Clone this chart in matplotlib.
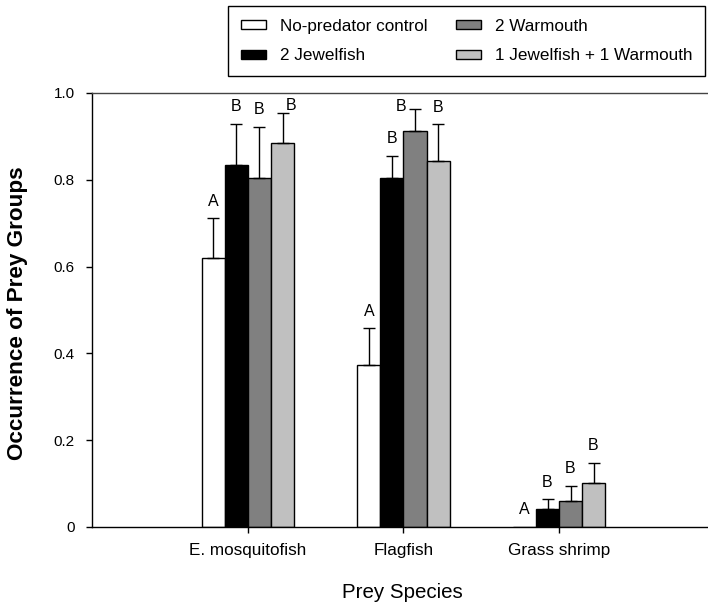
import numpy as np
import matplotlib
matplotlib.use("Agg")
import matplotlib.pyplot as plt
from matplotlib.patches import Patch

plt.rcParams['font.family'] = ['Liberation Sans', 'DejaVu Sans']

# data
species = ["E. mosquitofish", "Flagfish", "Grass shrimp"]
treatments = ["No-predator control", "2 Jewelfish", "2 Warmouth", "1 Jewelfish + 1 Warmouth"]
colors = ["white", "black", "#808080", "#c0c0c0"]

control = [0.62, 0.373, 0.0]
jewelfish = [0.833, 0.803, 0.041]
warmouth = [0.803, 0.913, 0.061]
mixed = [0.884, 0.844, 0.102]

control_err = [0.091, 0.085, 0.0]
jewelfish_err = [0.096, 0.052, 0.023]
warmouth_err = [0.119, 0.049, 0.034]
mixed_err = [0.069, 0.084, 0.046]

letters = [["A", "B", "B", "B"],
           ["A", "B", "B", "B"],
           ["A", "B", "B", "B"]]

yticks = [0, 0.2, 0.4, 0.6, 0.8, 1.0]
ytick_labels = ["0", "0.2", "0.4", "0.6", "0.8", "1.0"]

means = [control, jewelfish, warmouth, mixed]
errs = [control_err, jewelfish_err, warmouth_err, mixed_err]

fig = plt.figure(figsize=(7.08, 6.06), dpi=100)
ax = fig.add_axes([92 / 708, 1 - 527 / 606, 616 / 708, 434 / 606])

x = np.arange(len(species))
w = 0.148

# letter nudges (points) for a couple of labels that sit off-centre
nudge = {(0, 3): (6, -7), (1, 2): (-10, -10)}

for i, (m, e, c) in enumerate(zip(means, errs, colors)):
    pos = x + (i - 1.5) * w
    ax.bar(pos, m, w, color=c, edgecolor="black", linewidth=1.0, zorder=2)
    m_arr = np.array(m)
    e_arr = np.array(e)
    has = e_arr > 0
    ax.errorbar(pos[has], m_arr[has], yerr=[np.zeros(has.sum()), e_arr[has]],
                fmt="none", ecolor="black", elinewidth=1.0, capsize=4.5,
                capthick=1.0, zorder=3)
    for j in range(len(species)):
        dx, dy = nudge.get((j, i), (0, 0))
        ax.annotate(letters[j][i], (pos[j], m[j] + e[j]),
                    xytext=(dx, 7 + dy), textcoords="offset points",
                    ha="center", va="bottom", fontsize=11.5)

ax.set_xlim(-1.003, 2.958)
ax.set_ylim(0, 1.0)
ax.set_xticks(x)
ax.set_xticklabels(species, fontsize=12.3)
ax.set_yticks(yticks)
ax.set_yticklabels(ytick_labels, fontsize=11)
ax.tick_params(axis="y", direction="out", length=4.3, width=1.0, pad=8)
ax.tick_params(axis="x", direction="out", length=4.3, width=1.0, pad=7)

for s in ["left", "bottom", "top"]:
    ax.spines[s].set_linewidth(1.0)
ax.spines["right"].set_visible(False)
ax.spines["top"].set_color("#444444")

fig.text(17.5 / 708, 1 - 313.5 / 606, "Occurrence of Prey Groups", rotation=90,
         ha="center", va="center", fontsize=16.2, fontweight="bold")
fig.text(402.5 / 708, 1 - 592 / 606, "Prey Species", ha="center", va="center",
         fontsize=14.8)

handles = [Patch(facecolor=c, edgecolor="black", linewidth=1.0) for c in colors]
leg = fig.legend(handles, treatments, loc="upper left", ncol=2,
                 bbox_to_anchor=(228 / 708, 1 - 6 / 606),
                 bbox_transform=fig.transFigure, borderaxespad=0,
                 fontsize=12.3, handlelength=1.47, handleheight=0.47,
                 handletextpad=0.8, columnspacing=1.7, labelspacing=0.85,
                 borderpad=0.75, fancybox=False, framealpha=1)
leg.get_frame().set_edgecolor("black")
leg.get_frame().set_linewidth(1.0)

fig.savefig("out.png", dpi=100)
